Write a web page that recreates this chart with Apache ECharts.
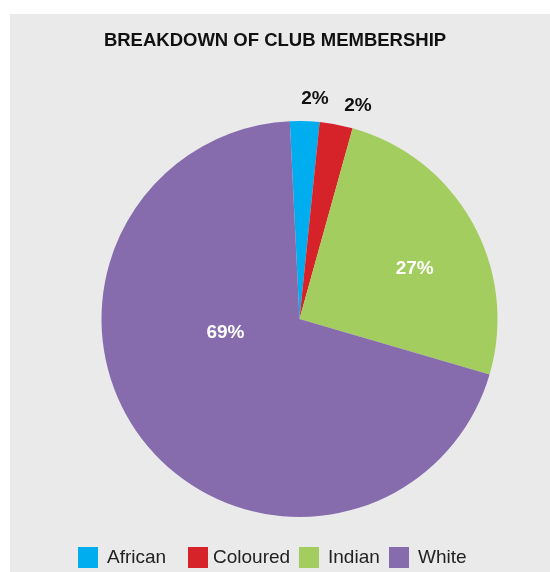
<!DOCTYPE html>
<html>
<head>
<meta charset="utf-8">
<script src="https://cdn.jsdelivr.net/npm/echarts@6/dist/echarts.min.js"></script>
<style>
  html, body { margin: 0; padding: 0; background: #ffffff; }
  #main { width: 550px; height: 572px; }
</style>
</head>
<body>
<div id="main"></div>
<script>
// membership share, percent (slice sizes as drawn; labels as printed)
const groups = ['African', 'Coloured', 'Indian', 'White'];
const shares = [2.4, 2.7, 25.2, 69.7];
const shareLabels = ['2%', '2%', '27%', '69%'];
const colors = ['#00aeef', '#d6232a', '#a3cd5f', '#866bad'];

// one legend per entry so the uneven spacing of the original can be kept
const legendLeft = [78, 188, 299, 389];

function buildData(){
    return groups.map((name, i) => {
        let outside = i < 2;
        return {
            name: name,
            value: shares[i],
            itemStyle: { color: colors[i] },
            label: {
                position: outside ? 'outside' : 'inside',
                color: outside ? '#111111' : '#ffffff'
            },
            labelLine: { show: false }
        };
    });
}

function buildLegends(){
    return groups.map((name, i) => ({
        left: legendLeft[i],
        top: 547,
        padding: 0,
        itemWidth: 20,
        itemHeight: 21,
        icon: 'rect',
        selectedMode: false,
        textStyle: {
            fontFamily: 'Liberation Sans',
            fontSize: 19,
            color: '#222222',
            padding: [0, 0, 0, i === 1 ? 0 : 4]
        },
        data: [name]
    }));
}

let myChart = echarts.init(document.getElementById('main'));
let option = {
    animation: false,
    backgroundColor: '#ffffff',
    graphic: [{
        type: 'rect',
        z: -10,
        shape: { x: 10, y: 14, width: 540, height: 558 },
        style: { fill: '#eaeaea' }
    }],
    title: {
        text: 'BREAKDOWN OF CLUB MEMBERSHIP',
        left: 275,
        textAlign: 'center',
        top: 31,
        padding: 0,
        textStyle: {
            fontFamily: 'Liberation Sans',
            fontWeight: 'bold',
            fontSize: 18.5,
            color: '#111111'
        }
    },
    legend: buildLegends(),
    series: [{
        type: 'pie',
        center: [299.5, 319],
        radius: 198,
        startAngle: 92.8,
        clockwise: true,
        data: buildData(),
        label: {
            formatter: (p) => shareLabels[p.dataIndex],
            fontFamily: 'Liberation Sans',
            fontWeight: 'bold',
            fontSize: 19
        },
        labelLine: { show: false, length: 6, length2: 0 },
        labelLayout: function(params){
            let i = params.dataIndex;
            if(i === 0) return { x: 315, y: 99, align: 'center', verticalAlign: 'middle' };
            if(i === 1) return { x: 358, y: 106, align: 'center', verticalAlign: 'middle' };
            if(i === 2) return { dx: 26, dy: -1 };
            return { dx: 6, dy: -49 };
        },
        emphasis: { disabled: true }
    }]
};
myChart.setOption(option);
</script>
</body>
</html>
